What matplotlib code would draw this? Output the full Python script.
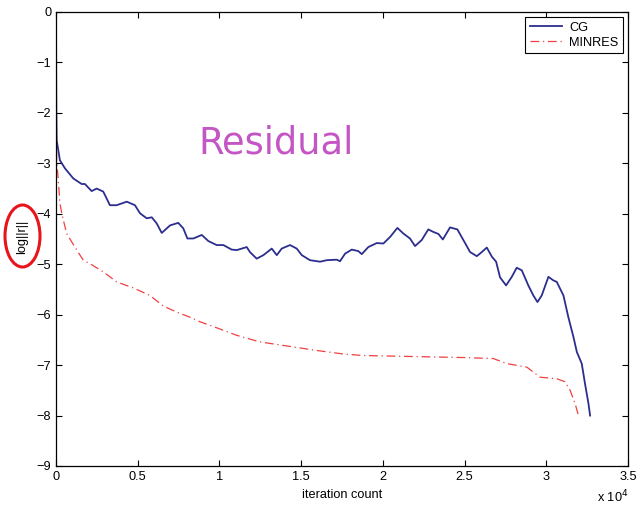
import matplotlib
matplotlib.use("Agg")
import matplotlib.pyplot as plt
from matplotlib.patches import Ellipse

plt.rcParams['font.family'] = ['Liberation Sans', 'DejaVu Sans']

# iteration count in units of 1e4
cg_x = [0.0, 0.001, 0.002, 0.004, 0.024, 0.055, 0.106, 0.157, 0.177, 0.218, 0.249, 0.289,
        0.330, 0.371, 0.433, 0.483, 0.514, 0.555, 0.586, 0.616, 0.647, 0.698, 0.748,
        0.779, 0.804, 0.840, 0.892, 0.932, 0.983, 1.024, 1.075, 1.106, 1.167, 1.187,
        1.228, 1.269, 1.320, 1.351, 1.381, 1.432, 1.473, 1.504, 1.554, 1.616, 1.657,
        1.718, 1.738, 1.769, 1.810, 1.850, 1.871, 1.911, 1.963, 2.003, 2.044, 2.089,
        2.125, 2.166, 2.197, 2.238, 2.278, 2.309, 2.340, 2.367, 2.411, 2.456, 2.503,
        2.534, 2.575, 2.605, 2.636, 2.667, 2.693, 2.717, 2.754, 2.789, 2.819, 2.850,
        2.890, 2.921, 2.946, 2.972, 3.013, 3.043, 3.064, 3.105, 3.135, 3.166, 3.187,
        3.217, 3.237, 3.258, 3.268]
cg_y = [0.0, -1.2, -2.0, -2.54, -2.94, -3.10, -3.30, -3.41, -3.41, -3.55, -3.50, -3.56,
        -3.83, -3.83, -3.76, -3.83, -3.99, -4.09, -4.07, -4.19, -4.38, -4.23, -4.18,
        -4.29, -4.49, -4.49, -4.42, -4.54, -4.62, -4.62, -4.71, -4.72, -4.66, -4.76,
        -4.89, -4.82, -4.69, -4.82, -4.69, -4.62, -4.69, -4.82, -4.92, -4.95, -4.92,
        -4.91, -4.94, -4.79, -4.71, -4.74, -4.80, -4.66, -4.58, -4.59, -4.46, -4.28,
        -4.39, -4.49, -4.64, -4.52, -4.31, -4.36, -4.40, -4.51, -4.27, -4.31, -4.58,
        -4.76, -4.84, -4.76, -4.67, -4.85, -4.95, -5.26, -5.42, -5.25, -5.07, -5.12,
        -5.42, -5.62, -5.75, -5.62, -5.25, -5.32, -5.35, -5.62, -6.05, -6.44, -6.74,
        -6.97, -7.37, -7.76, -8.00]

mr_x = [0.0, 0.002, 0.004, 0.014, 0.024, 0.035, 0.065, 0.127, 0.167, 0.208, 0.289, 0.371,
        0.473, 0.575, 0.657, 0.739, 0.820, 0.881, 0.983, 1.106, 1.248, 1.391, 1.596,
        1.758, 1.881, 2.187, 2.493, 2.676, 2.758, 2.881, 2.962, 3.064, 3.115, 3.146,
        3.176, 3.197]
mr_y = [0.0, -1.5, -2.94, -3.33, -3.79, -3.99, -4.39, -4.72, -4.92, -4.99, -5.15, -5.35,
        -5.47, -5.62, -5.83, -5.95, -6.05, -6.14, -6.26, -6.41, -6.54, -6.61, -6.71,
        -6.78, -6.81, -6.83, -6.85, -6.87, -6.97, -7.04, -7.24, -7.27, -7.33, -7.50,
        -7.76, -8.00]

x_ticks = [0, 0.5, 1, 1.5, 2, 2.5, 3, 3.5]
x_ticklabels = ['0', '0.5', '1', '1.5', '2', '2.5', '3', '3.5']
y_ticks = [0, -1, -2, -3, -4, -5, -6, -7, -8, -9]
y_ticklabels = ['0', '\u22121', '\u22122', '\u22123', '\u22124', '\u22125', '\u22126',
                '\u22127', '\u22128', '\u22129']

FS = 9.2

fig = plt.figure(figsize=(6.43, 5.05), dpi=100)
ax = fig.add_axes([56/643, 39/505, 572/643, 454/505])

ax.plot(cg_x, cg_y, color='#2b2e8e', lw=1.3, label='CG')
ax.plot(mr_x, mr_y, color='#f04040', lw=0.9, linestyle=(0, (7, 3, 1, 3)), label='MINRES')

ax.set_xlim(0, 3.5)
ax.set_ylim(-9, 0)
ax.set_xticks(x_ticks)
ax.set_xticklabels(x_ticklabels)
ax.set_yticks(y_ticks)
ax.set_yticklabels(y_ticklabels)
ax.tick_params(direction='in', length=4, width=0.8, top=True, right=True,
               labelsize=FS, pad=3.5)
for s in ax.spines.values():
    s.set_linewidth(0.9)

ax.set_xlabel('iteration count', fontsize=FS, labelpad=4.5)
fig.text(597/643, 1 - 497/505, 'x 10$^4$', fontsize=FS, ha='left', va='center')

leg = ax.legend(loc='upper right', fontsize=FS, fancybox=False, framealpha=1,
                edgecolor='black', borderaxespad=0.4, handlelength=2.5,
                borderpad=0.35, labelspacing=0.25, handletextpad=0.6)
leg.get_frame().set_linewidth(0.8)

# y label with red ellipse
fig.text(22/643, 1 - 237/505, 'log||r||', rotation=90, fontsize=FS,
         ha='center', va='center')
ell = Ellipse((22.5/643, 1 - 236/505), 35/643, 62/505, transform=fig.transFigure,
              fill=False, edgecolor='#e8141c', lw=2.2)
fig.add_artist(ell)

fig.text(276/643, 1 - 143/505, 'Residual', fontsize=26.5, color='#c455c4',
         ha='center', va='center', family='DejaVu Sans', weight='normal')

fig.savefig('out.png', dpi=100)
